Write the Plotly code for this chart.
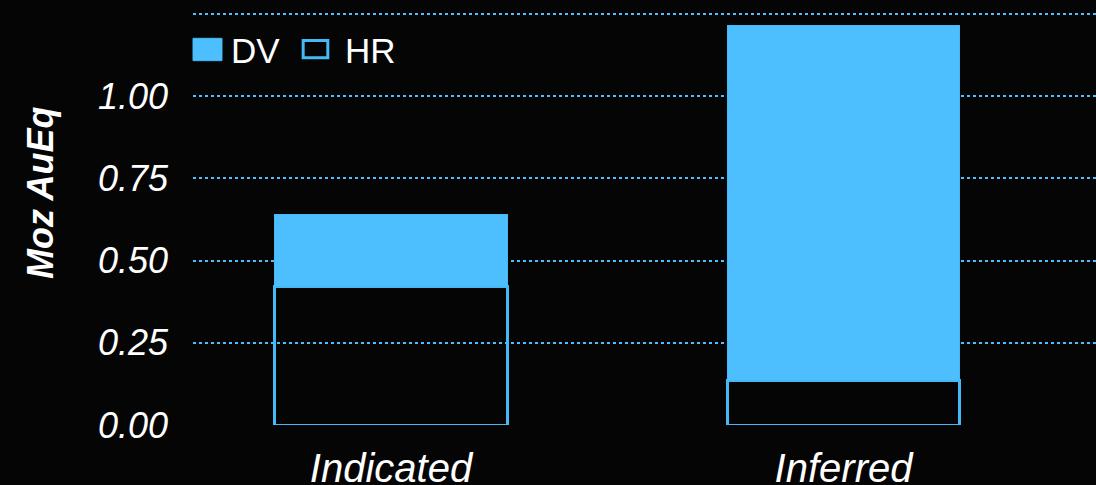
import plotly.graph_objects as go

categories = ["Indicated", "Inferred"]
hr_values = [0.422, 0.134]
dv_values = [0.218, 1.080]
tick_values = [0.0, 0.25, 0.5, 0.75, 1.0]
tick_labels = ["0.00", "0.25", "0.50", "0.75", "1.00"]
grid_values = [0.25, 0.5, 0.75, 1.0, 1.25]
series_names = ["DV", "HR"]

BLUE = "#4DBFFF"
EDGE = "#45B9F6"
BG = "#050505"
FONT = "Liberation Sans, Arial"

fig = go.Figure()
fig.add_trace(go.Bar(
    x=categories, y=hr_values, name=series_names[1], width=0.513,
    marker=dict(color="rgba(0,0,0,0)", line=dict(color=EDGE, width=3)),
    showlegend=False,
))
fig.add_trace(go.Bar(
    x=categories, y=dv_values, name=series_names[0], width=0.513,
    marker=dict(color=BLUE, line=dict(color=EDGE, width=1)),
    showlegend=False,
))
# invisible trace to carry the label axis
fig.add_trace(go.Scatter(x=categories, y=[None, None], yaxis="y2", showlegend=False,
                         hoverinfo="skip"))

# legend (drawn in paper coordinates)
shapes = [
    dict(type="rect", xref="paper", yref="paper", x0=0.0, x1=0.0321, y0=0.8779, y1=0.9318,
         fillcolor=BLUE, line=dict(color=EDGE, width=1)),
    dict(type="rect", xref="paper", yref="paper", x0=0.122, x1=0.1493, y0=0.8848, y1=0.9265,
         fillcolor="rgba(0,0,0,0)", line=dict(color=EDGE, width=3)),
]
annotations = [
    dict(text=series_names[0], xref="paper", yref="paper", x=0.0399, y=0.9036,
         xanchor="left", yanchor="middle", showarrow=False,
         font=dict(family=FONT, size=35, color="white")),
    dict(text=series_names[1], xref="paper", yref="paper", x=0.1658, y=0.9036,
         xanchor="left", yanchor="middle", showarrow=False,
         font=dict(family=FONT, size=35, color="white")),
    dict(text="Moz AuEq", xref="paper", yref="paper", x=-0.1694, y=0.559,
         xanchor="center", yanchor="middle", showarrow=False, textangle=-90,
         font=dict(family=FONT, size=36, color="white", style="italic", weight="bold")),
]

fig.update_layout(
    barmode="stack",
    width=1096, height=485,
    paper_bgcolor=BG, plot_bgcolor=BG,
    margin=dict(l=193, r=0, t=10, b=60, autoexpand=False),
    showlegend=False,
    shapes=shapes,
    annotations=annotations,
    xaxis=dict(range=[-0.4376, 1.558], showgrid=False, zeroline=False,
               showline=False, ticks="", automargin=False,
               tickfont=dict(family=FONT, size=40, color="white", style="italic"),
               ticklabelstandoff=16),
    yaxis=dict(range=[0, 1.2614], tickvals=grid_values, showticklabels=False,
               showgrid=True, gridcolor=BLUE, griddash="dot", gridwidth=2,
               zeroline=False, showline=False, ticks="", automargin=False),
    yaxis2=dict(range=[0, 1.2614], overlaying="y", side="left", tickvals=tick_values,
                ticktext=tick_labels, showgrid=False, zeroline=False, showline=False,
                ticks="", ticklabelstandoff=24, automargin=False,
                tickfont=dict(family="Liberation Sans Narrow, Liberation Sans, Arial",
                              size=36, color="white", style="italic")),
)

fig.write_html(
    "out.html",
    config={"displayModeBar": False},
    post_script="document.body.style.margin='0';document.body.style.background='#050505';",
)
